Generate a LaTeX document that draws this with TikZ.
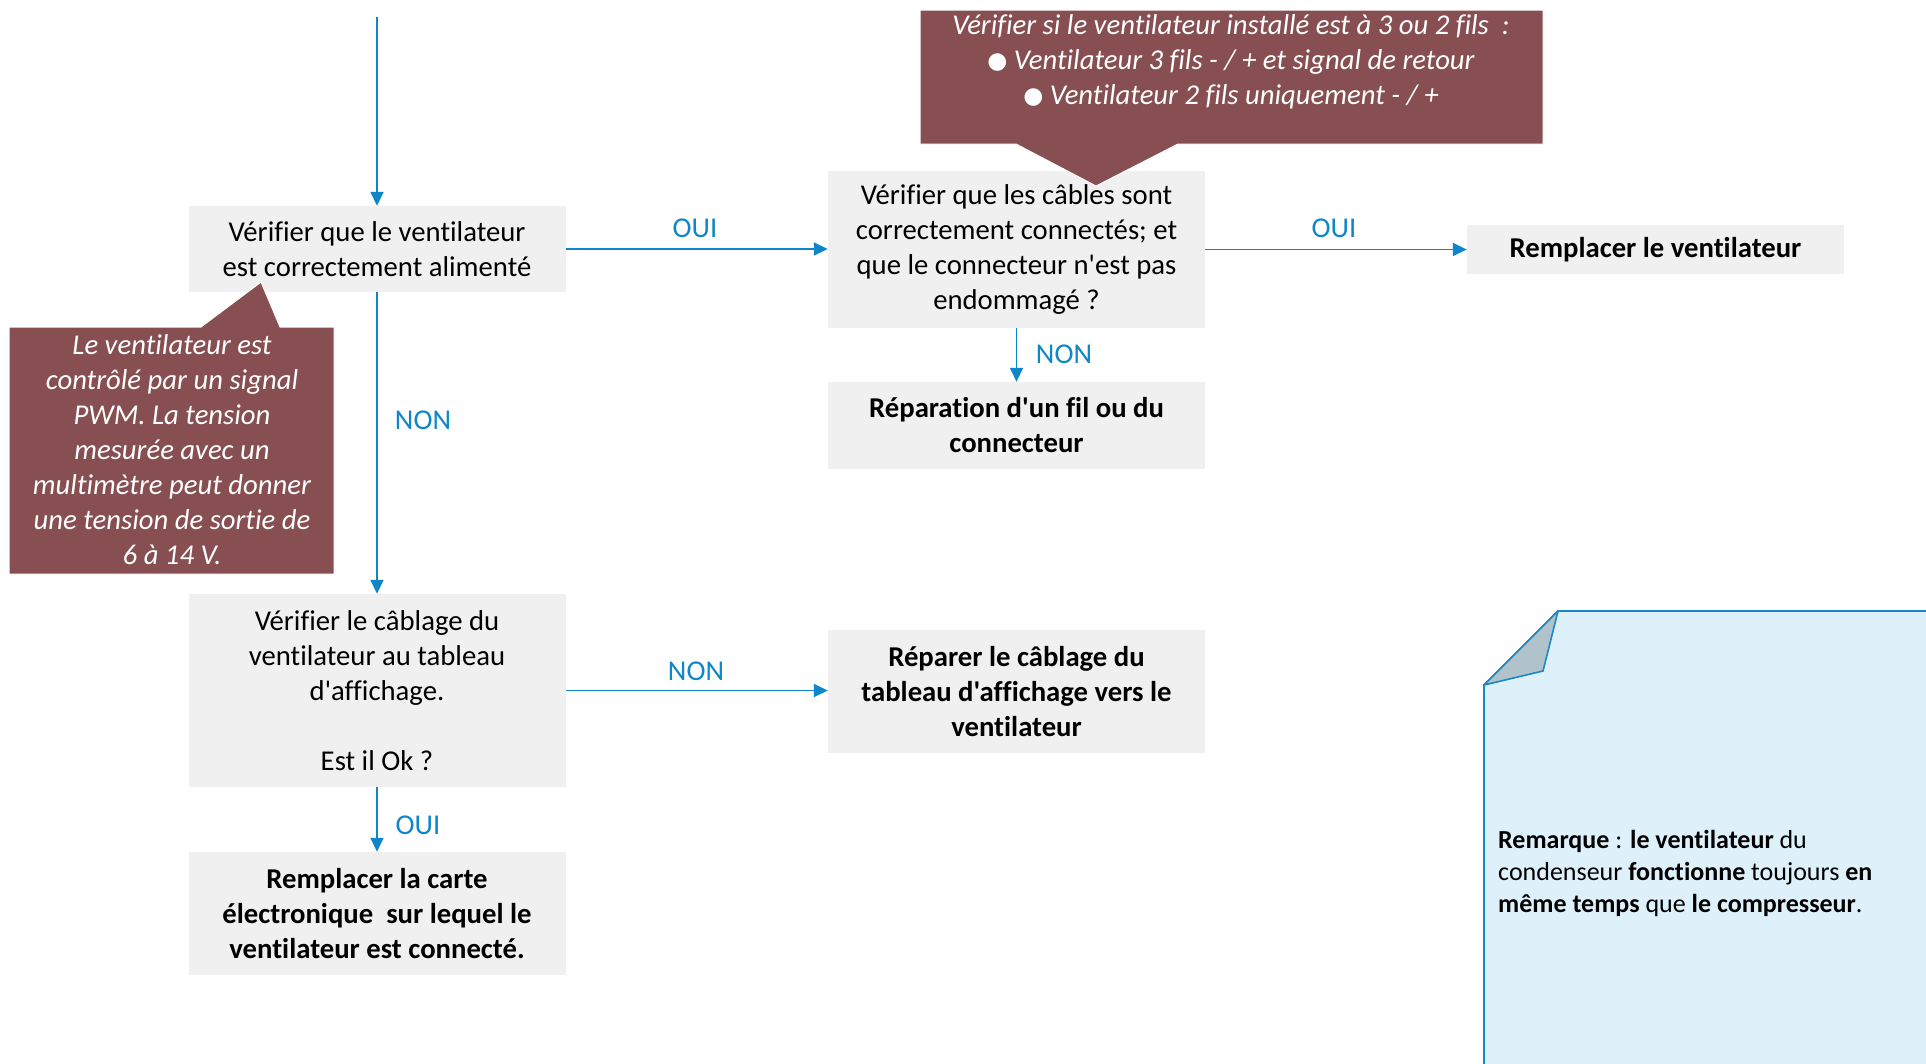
\documentclass[tikz,border=0pt]{standalone}
\usepackage{fontspec}
\setmainfont{Carlito}
\newfontfamily\carl{Carlito}[Ligatures=CommonOff]
\newfontfamily\symfont{DejaVu Sans}
\usetikzlibrary{arrows.meta}
\definecolor{boxgray}{HTML}{F0F0F0}
\definecolor{arrowblue}{HTML}{0E86C9}
\definecolor{maroon}{HTML}{874F51}
\definecolor{notefill}{HTML}{DEF1FB}
\definecolor{noteline}{HTML}{1A87C9}
\definecolor{foldgray}{HTML}{B1C3CA}
\newcommand{\bul}{\raisebox{1pt}{\symfont\fontsize{23}{35}\selectfont ●}}
\tikzset{
  mainfont/.style={font=\carl\fontsize{28.7}{35}\selectfont},
  box/.style={fill=boxgray, minimum width=377, align=center, inner sep=0, mainfont},
  boxb/.style={box, font=\carl\fontsize{28.7}{35}\selectfont\bfseries},
  lbl/.style={text=arrowblue, inner sep=0, mainfont},
  arr/.style={draw=arrowblue, line width=1.6pt, -{Triangle[length=14pt,width=13pt]}},
  callout/.style={fill=maroon, draw=white, line width=1pt},
  callouttext/.style={text=white, align=center, inner sep=0, font=\carl\fontsize{28.7}{35}\selectfont\itshape},
}
\begin{document}
\begin{tikzpicture}[x=1pt,y=-1pt]
\useasboundingbox (0,0) rectangle (1926,1063);

% boxes
\node[box, minimum height=86] (A) at (377,249) {Vérifier que le ventilateur\\est correctement alimenté};
\node[box, minimum height=157] (B) at (1016.5,249.5) {Vérifier que les câbles sont\\correctement connectés; et\\que le connecteur n'est pas\\endommagé ?};
\node[boxb, minimum height=49] (C) at (1655.5,249.5) {Remplacer le ventilateur};
\node[boxb, minimum height=87] (D) at (1016.5,425.5) {Réparation d'un fil ou du\\connecteur};
\node[box, minimum height=193] (E) at (377,690.5) {Vérifier le câblage du\\ventilateur au tableau\\d'affichage.\\[35pt]Est il Ok ?};
\node[boxb, minimum height=123] (F) at (1016.5,691.5) {Réparer le câblage du\\tableau d'affichage vers le\\ventilateur};
\node[boxb, minimum height=123] (G) at (377,913.5) {Remplacer la carte\\électronique\ \ sur lequel le\\ventilateur est connecté.};

% connectors
\coordinate (start) at (377,17);
\draw[arr] (start) -- (A.north);
\draw[arr] (A.east) -- (A.east -| B.west);
\node[lbl] (l1) at (695,228) {OUI};
\draw[arr] (B.east) -- (B.east -| C.west);
\node[lbl] (l2) at (1334,228) {OUI};
\draw[arr] (B.south) -- (D.north);
\node[lbl] (l3) at (1064,354) {NON};
\draw[arr] (A.south) -- (E.north);
\node[lbl] (l4) at (423,420) {NON};
\draw[arr] (E.east) -- (E.east -| F.west);
\node[lbl] (l5) at (696,671) {NON};
\draw[arr] (E.south) -- (G.north);
\node[lbl] (l6) at (418,825) {OUI};

% left callout
\draw[callout] (9,327) -- (201,327) -- (261,282) -- (280,327) -- (334,327) -- (334,574) -- (9,574) -- cycle;
\node[callouttext] (c1) at (172,450) {Le ventilateur est\\contrôlé par un signal\\PWM. La tension\\mesurée avec un\\multimètre peut donner\\une tension de sortie de\\6 à 14 V.};

% top callout
\draw[callout] (920,10) -- (1543,10) -- (1543,144) -- (1178,144) -- (1096,186) -- (1016,144) -- (920,144) -- cycle;
\node[callouttext] (c2) at (1231,62) {Vérifier si le ventilateur installé est à 3 ou 2 fils\ \ :\\\bul{} Ventilateur 3 fils - / + et signal de retour\\\bul{} Ventilateur 2 fils uniquement - / +};

% note with folded corner
\draw[fill=notefill, draw=noteline, line width=1.6pt] (1558,611) -- (1935,611) -- (1935,1075) -- (1484,1075) -- (1484,685) -- cycle;
\draw[fill=foldgray, draw=noteline, line width=1.6pt, line join=round] (1484,685) -- (1558,611) -- (1543,671) -- cycle;
\node[anchor=west, align=left, inner sep=0, font=\carl\fontsize{26}{32}\selectfont] (note) at (1498,873) {\textbf{Remarque} : \textbf{le ventilateur} du\\condenseur \textbf{fonctionne} toujours \textbf{en}\\\textbf{même temps} que \textbf{le compresseur}.};
\end{tikzpicture}
\end{document}
